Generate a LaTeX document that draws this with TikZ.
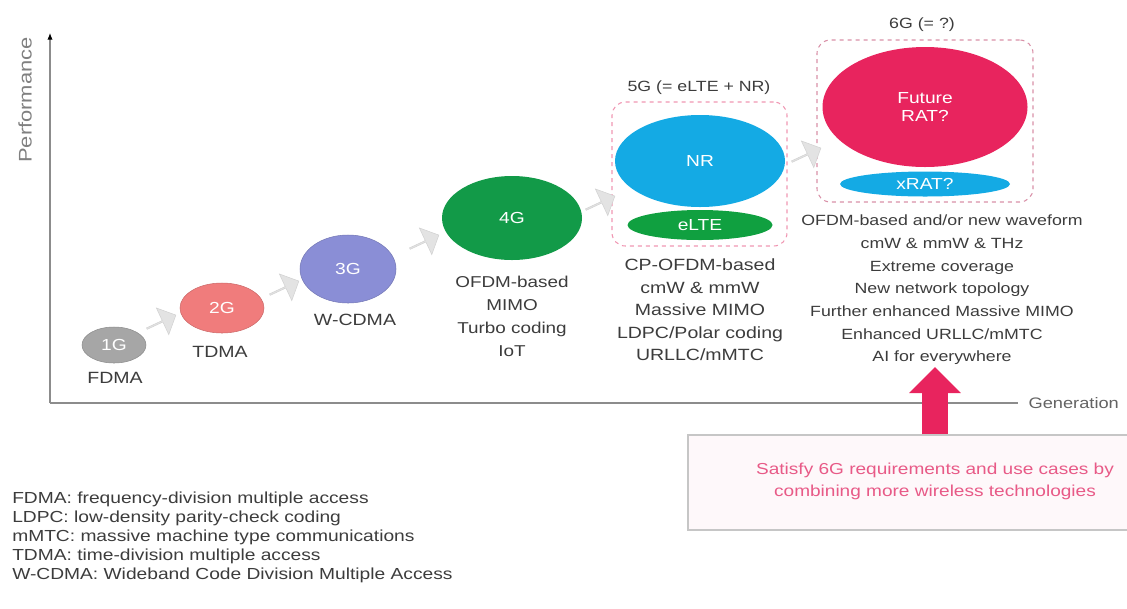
\documentclass[tikz,border=0pt]{standalone}
\usepackage{fontspec}
\setmainfont{Liberation Sans}[FakeStretch=1.2]
\usetikzlibrary{shapes.geometric,shapes.arrows,arrows.meta}
\definecolor{gen1}{RGB}{166,166,166}
\definecolor{gen2}{RGB}{240,124,124}
\definecolor{gen3}{RGB}{138,142,214}
\definecolor{gen4}{RGB}{18,154,72}
\definecolor{nrblue}{RGB}{20,170,228}
\definecolor{eltegreen}{RGB}{16,160,64}
\definecolor{futpink}{RGB}{232,36,94}
\definecolor{txtgray}{RGB}{60,60,60}
\definecolor{axgray}{RGB}{140,140,140}
\definecolor{boxpink}{RGB}{240,150,178}
\definecolor{satpink}{RGB}{232,90,135}

\begin{document}
\begin{tikzpicture}[x=0.75pt,y=0.75pt,yscale=-1,xscale=1,
  gen/.style={ellipse,inner sep=0pt,text=white,align=center,font=\fontsize{12}{13}\selectfont},
  lbl/.style={inner sep=1pt,text=txtgray,font=\fontsize{12.2}{14}\selectfont},
  feat/.style={inner sep=1pt,text=txtgray,align=center},
  genarrow/.style={single arrow,inner sep=0pt,fill=gray!22,draw=gray!35,minimum width=22pt,minimum height=24pt,single arrow head extend=3.5pt},
  grpbox/.style={draw=boxpink,dashed,rounded corners=10pt,line width=0.8pt,inner sep=0pt}]
\useasboundingbox (0,0) rectangle (1127,608); %same size as the reference

%Axes
\coordinate (orig) at (50,403);
\coordinate (ytop) at (50,33);
\coordinate (xend) at (1018,403);
\draw [axgray,line width=0.8pt,-{Latex[black,length=5pt,width=4pt]}] (orig) -- (ytop);
\draw [axgray,line width=1.8pt] (orig) -- (xend);
% Text Node
\node (perf) at (25,100) [rotate=90,text=gray,font=\fontsize{13.7}{15}\selectfont] {Performance};
% Text Node
\node (gener) at (1027,403) [anchor=west,inner sep=1pt,text=txtgray!80,font=\fontsize{11.4}{13}\selectfont] {Generation};

%Group boxes
\node (box5g) at (699.5,174) [grpbox,minimum width=131.25pt,minimum height=108pt] {};
\node (box6g) at (925,121) [grpbox,draw=boxpink!80!gray,minimum width=162pt,minimum height=121.5pt] {};

%Shape: Ellipse
\node (g1) at (114,345) [gen,fill=gen1,draw=gen1!85!black,minimum width=48pt,minimum height=27pt] {1G};
\node (g2) at (222,308) [gen,fill=gen2,draw=gen2!85!black,minimum width=63pt,minimum height=37.5pt] {2G};
\node (g3) at (348,269) [gen,fill=gen3,draw=gen3!85!black,minimum width=72pt,minimum height=51pt] {3G};
\node (g4) at (512,218) [gen,fill=gen4,minimum width=105pt,minimum height=63pt] {4G};
\node (nr) at (700,161) [gen,fill=nrblue,minimum width=127.5pt,minimum height=69pt] {NR};
\node (elte) at (700,225) [gen,fill=eltegreen,minimum width=108.75pt,minimum height=22.5pt] {eLTE};
\node (fut) at (925,107) [gen,fill=futpink,minimum width=153.75pt,minimum height=90pt] {Future\\RAT?};
\node (xrat) at (925,184) [gen,fill=nrblue,minimum width=127.5pt,minimum height=18.75pt] {xRAT?};

%Block arrows between generations
\node (a1) at (161,322) [genarrow,rotate=25] {};
\node (a2) at (284,288) [genarrow,rotate=25] {};
\node (a3) at (424,242) [genarrow,rotate=25] {};
\node (a4) at (600,203) [genarrow,rotate=25] {};
\node (a5) at (806,155) [genarrow,rotate=25] {};

% Text Node
\node (l1) at (115,378) [lbl] {FDMA};
\node (l2) at (220,352) [lbl] {TDMA};
\node (l3) at (355,320) [lbl] {W-CDMA};
\node (t5g) at (699,88) [lbl,font=\fontsize{11.1}{13}\selectfont] {5G (= eLTE + NR)};
\node (t6g) at (922,25) [lbl,font=\fontsize{11.1}{13}\selectfont] {6G (= ?)};
% Text Node
\node (f4g) at (512,316) [feat,font=\fontsize{11.8}{17.25}\selectfont] {OFDM-based\\MIMO\\Turbo coding\\IoT};
\node (f5g) at (700,310) [feat,font=\fontsize{12.2}{16.9}\selectfont] {CP-OFDM-based\\cmW \& mmW\\Massive MIMO\\LDPC/Polar coding\\URLLC/mMTC};
\node (f6g) at (942,290) [feat,font=\fontsize{11.1}{17}\selectfont] {OFDM-based and/or new waveform\\cmW \& mmW \& THz\\Extreme coverage\\New network topology\\Further enhanced Massive MIMO\\Enhanced URLLC/mMTC\\AI for everywhere};

%Requirement box and arrow
\node (satbox) at (914,482.5) [draw=gray!45,line width=1pt,fill=futpink!3,minimum width=339pt,minimum height=71.25pt] {};
\node (sat) at (935,481) [feat,text=satpink,font=\fontsize{11.9}{16.5}\selectfont] {Satisfy 6G requirements and use cases by\\combining more wireless technologies};
\coordinate (tip) at (935,367);
\draw [futpink,line width=19.5pt,-{Triangle[width=37.5pt,length=19.5pt]}] (satbox.north -| tip) -- (tip);

% Text Node
\node (legend) at (12,537) [anchor=west,inner sep=0pt,align=left,text=txtgray,font=\fontsize{12}{14.3}\selectfont] {FDMA: frequency-division multiple access\\LDPC: low-density parity-check coding\\mMTC: massive machine type communications\\TDMA: time-division multiple access\\W-CDMA: Wideband Code Division Multiple Access};

\end{tikzpicture}
\end{document}
